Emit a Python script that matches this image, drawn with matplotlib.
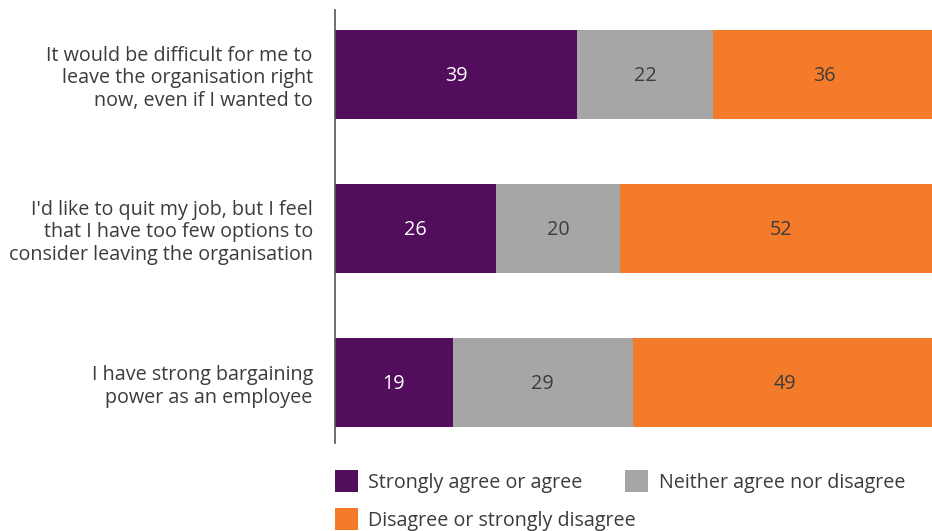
import matplotlib
matplotlib.use("Agg")
import matplotlib.pyplot as plt
import numpy as np

categories = [
    "It would be difficult for me to\nleave the organisation right\nnow, even if I wanted to",
    "I'd like to quit my job, but I feel\nthat I have too few options to\nconsider leaving the organisation",
    "I have strong bargaining\npower as an employee",
]
series_names = ["Strongly agree or agree", "Neither agree nor disagree", "Disagree or strongly disagree"]
agree = [39, 26, 19]
neither = [22, 20, 29]
disagree = [36, 52, 49]

colors = ["#520E5C", "#A6A6A6", "#F47B2A"]
label_colors = ["white", "#3C3C3C", "#3C3C3C"]
text_color = "#3C3C3C"

plt.rcParams["font.family"] = ["Open Sans", "DejaVu Sans"]
FS = 14.2

fig = plt.figure(figsize=(9.32, 5.31), dpi=100)
ax = fig.add_axes([335 / 932, 88 / 531, 597 / 932, 433 / 531])

y = np.arange(len(categories))
left = np.zeros(len(categories))
handles = []
for vals, col, lcol, name in zip([agree, neither, disagree], colors, label_colors, series_names):
    vals = np.array(vals, dtype=float)
    bars = ax.barh(y, vals, left=left, height=0.578, color=col, label=name)
    handles.append(bars)
    for yi, l, v in zip(y, left, vals):
        ax.text(l + v / 2, yi + 0.01, f"{int(v)}", ha="center", va="center",
                color=lcol, fontsize=FS)
    left += vals

ax.set_xlim(0, 96.3)
ax.set_ylim(2 + 0.393, -0.419)
ax.set_yticks(y)
ax.set_yticklabels(categories, fontsize=FS, color=text_color, linespacing=1.17)
ax.tick_params(axis="y", length=0, pad=16)
ax.set_xticks([])
for s in ["top", "right", "bottom"]:
    ax.spines[s].set_visible(False)
ax.spines["left"].set_color("#555555")
ax.spines["left"].set_linewidth(1.2)

# legend: two entries on the first row, the third on a row of its own
leg_kw = dict(loc="upper left", frameon=False, fontsize=FS, handlelength=1.15,
              handleheight=1.35, handletextpad=0.55, borderaxespad=0, borderpad=0.4)
x0 = 335 / 932 - 0.0085
leg1 = fig.legend(handles=handles[:2], labels=series_names[:2], ncol=2,
                  columnspacing=2.15, bbox_to_anchor=(x0, 1 - 462 / 531), **leg_kw)
leg2 = fig.legend(handles=handles[2:], labels=series_names[2:], ncol=1,
                  bbox_to_anchor=(x0, 1 - 500 / 531), **leg_kw)
for leg in (leg1, leg2):
    for t in leg.get_texts():
        t.set_color(text_color)

fig.savefig("out.png", dpi=100)
